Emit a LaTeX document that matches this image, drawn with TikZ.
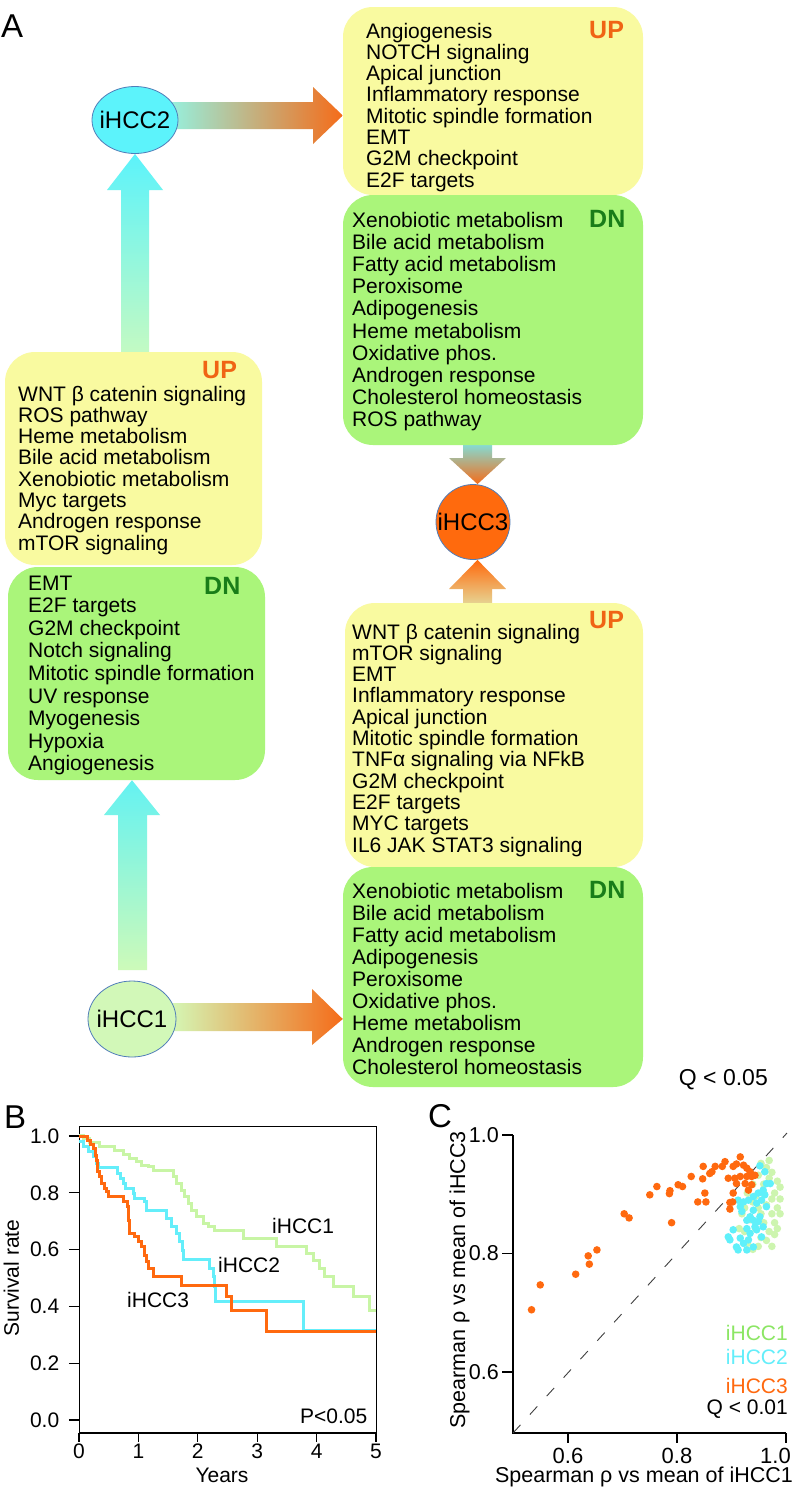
\documentclass[tikz,border=0pt]{standalone}
\usepackage{fontspec}
\setmainfont{Liberation Sans}
\usetikzlibrary{shapes.geometric,backgrounds,calc}

\definecolor{boxY}{RGB}{249,250,160}
\definecolor{boxG}{RGB}{170,245,122}
\definecolor{upO}{RGB}{240,100,20}
\definecolor{dnG}{RGB}{25,125,25}
\definecolor{ellC}{RGB}{92,243,251}
\definecolor{ellO}{RGB}{255,106,13}
\definecolor{ellG}{RGB}{210,248,184}
\definecolor{ellB}{RGB}{80,125,185}
\definecolor{arO}{RGB}{245,108,25}
\definecolor{arC}{RGB}{100,242,242}
\definecolor{arLG}{RGB}{205,250,185}
\definecolor{cvG}{RGB}{200,245,165}
\definecolor{cvC}{RGB}{100,238,250}
\definecolor{cvO}{RGB}{255,105,15}
\definecolor{legG}{RGB}{140,230,100}
\definecolor{dotG}{RGB}{205,245,175}
\definecolor{dotC}{RGB}{95,240,250}

\newcommand\myfs[1]{\fontsize{#1}{#1}\selectfont}
\newcommand\pathlist[5]{\foreach \t [count=\i] in {#5} {\node[btxt] (#1\i) at (#2,{#3+#4*(\i-1)}) {\t};}}

\tikzset{
  upbox/.style={rectangle, rounded corners=30pt, fill=boxY, inner sep=0pt},
  dnbox/.style={rectangle, rounded corners=30pt, fill=boxG, inner sep=0pt},
  btxt/.style={anchor=base west, inner sep=0pt, font=\myfs{21}},
  uplab/.style={anchor=base west, inner sep=0pt, font=\bfseries\myfs{25}, text=upO},
  dnlab/.style={anchor=base west, inner sep=0pt, font=\bfseries\myfs{25}, text=dnG},
  cls/.style={ellipse, draw=ellB, line width=0.8pt, inner sep=0pt},
  clstext/.style={inner sep=0pt, font=\myfs{24}},
  panel/.style={anchor=base west, inner sep=0pt, font=\myfs{33}},
  lbl/.style={inner sep=0pt, font=\myfs{21}},
  axis/.style={line width=1.1pt, black},
  curve/.style={line width=3pt},
}

\begin{document}
\begin{tikzpicture}[x=1pt,y=-1pt]
\useasboundingbox (0,0) rectangle (793,1489);

% ---------------- Panel A ----------------
\node[panel] (lA) at (1,37) {A};

\node[upbox, minimum width=300, minimum height=188] (up2) at (493,101) {};
\node[dnbox, minimum width=300, minimum height=250] (dn2) at (493,320) {};
\node[upbox, minimum width=298, minimum height=264] (up3) at (494,735) {};
\node[dnbox, minimum width=300, minimum height=220] (dn3) at (493,977) {};
\node[upbox, minimum width=257, minimum height=213] (up1) at (133.5,458.5) {};
\node[dnbox, minimum width=257, minimum height=213] (dn1) at (136.5,673.5) {};

\node[cls, fill=ellC, minimum width=86, minimum height=67] (h2) at (135,120) {};
\node[cls, fill=ellO, minimum width=74, minimum height=75] (h3) at (473,522) {};
\node[cls, fill=ellG, minimum width=88, minimum height=76] (h1) at (132,1019) {};
\node[clstext] (h2t) at (h2.center) {iHCC2};
\node[clstext] (h3t) at (h3.center) {iHCC3};
\node[clstext] (h1t) at (h1.center) {iHCC1};

\coordinate (y2) at (0,115.5);

\begin{pgfonlayer}{background}
\fill[white] (0,0) rectangle (793,1489);
% iHCC1 -> left DN box
\shade[top color=arC, bottom color=arLG]
  (118,970) -- (118,815) -- (104,815) -- (h1.north |- dn1.south) -- (160,815) -- (147,815) -- (147,970) -- cycle;
% left UP box -> iHCC2
\shade[top color=ellC, bottom color={rgb,255:red,195;green,250;blue,195}]
  (h2.south |- up1.north) -- (121,352) -- (121,190) -- (107,190) -- (h2.south) -- (163,190) -- (149,190) -- (149,352) -- cycle;
% iHCC2 -> top UP box
\shade[left color={rgb,255:red,150;green,240;blue,222}, right color=arO]
  (170,102) -- (313,102) -- (313,87) -- (up2.west |- y2) -- (313,144) -- (313,129) -- (170,129) -- cycle;
% iHCC1 -> right DN box
\shade[left color={rgb,255:red,212;green,248;blue,182}, right color=arO]
  (170,1003) -- (312,1003) -- (312,989) -- (dn3.west |- h1.east) -- (312,1045) -- (312,1031) -- (170,1031) -- cycle;
% top DN box -> iHCC3
\shade[top color={rgb,255:red,120;green,232;blue,232}, bottom color=arO]
  (463,440) -- (463,458) -- (449,458) -- (h3.north -| 477.5,0) -- (506,458) -- (492,458) -- (492,440) -- cycle;
% right UP box -> iHCC3
\shade[top color=ellO, bottom color={rgb,255:red,228;green,222;blue,160}]
  (463,608) -- (463,589) -- (449,589) -- (h3.south -| 477.5,0) -- (506,589) -- (492,589) -- (492,608) -- cycle;
\end{pgfonlayer}

% texts
\node[uplab] (u2l) at (589,38) {UP};
\pathlist{ta}{366}{38}{21.3}{Angiogenesis, NOTCH signaling, Apical junction, Inflammatory response, Mitotic spindle formation, EMT, G2M checkpoint, E2F targets}
\node[dnlab] (d2l) at (589,227) {DN};
\pathlist{tb}{352}{227}{22.2}{Xenobiotic metabolism, Bile acid metabolism, Fatty acid metabolism, Peroxisome, Adipogenesis, Heme metabolism, Oxidative phos., Androgen response, Cholesterol homeostasis, ROS pathway}
\node[uplab] (u1l) at (202,378) {UP};
\pathlist{tc}{18}{401}{21.3}{WNT β catenin signaling, ROS pathway, Heme metabolism, Bile acid metabolism, Xenobiotic metabolism, Myc targets, Androgen response, mTOR signaling}
\node[dnlab] (d1l) at (204,594) {DN};
\pathlist{td}{28}{590}{22.6}{EMT, E2F targets, G2M checkpoint, Notch signaling, Mitotic spindle formation, UV response, Myogenesis, Hypoxia, Angiogenesis}
\node[uplab] (u3l) at (589,628) {UP};
\pathlist{te}{352}{639}{21.3}{WNT β catenin signaling, mTOR signaling, EMT, Inflammatory response, Apical junction, Mitotic spindle formation, TNFα signaling via NFkB, G2M checkpoint, E2F targets, MYC targets, IL6 JAK STAT3 signaling}
\node[dnlab] (d3l) at (589,898) {DN};
\pathlist{tf}{352}{898}{22}{Xenobiotic metabolism, Bile acid metabolism, Fatty acid metabolism, Adipogenesis, Peroxisome, Oxidative phos., Heme metabolism, Androgen response, Cholesterol homeostasis}

\node[lbl, anchor=base east, font=\myfs{23}] (q05) at (768,1085) {Q < 0.05};

% ---------------- Panel B ----------------
\node[panel] (lB) at (4,1128) {B};
\begin{scope}[shift={(79,1420)}, x=59.4pt, y=284pt]
  \draw[line width=1pt] (0,-0.046) rectangle (5,1.032);
  \draw[line width=2.2pt] (0,-0.046) -- (5,-0.046);
  \foreach \s in {0.0,0.2,0.4,0.6,0.8,1.0} {
    \draw[axis] (-0.17,\s) -- (0,\s);
    \node[lbl, anchor=east] (yb\s) at (-0.33,\s) {\s};
  }
  \foreach \t in {0,...,5} {
    \draw[axis] (\t,-0.046) -- (\t,-0.078);
    \node[lbl, anchor=base] (xb\t) at (\t,-0.137) {\t};
  }
\end{scope}
\begin{scope}[shift={(0,1020)}, x=0.33333pt, y=-0.33333pt]
  \draw[curve, cvG] (238,347) -| (250,355) -| (268,368) -| (300,378) -| (345,392) -| (370,404) -| (390,415) -| (410,425) -| (425,435) -| (445,440) -| (460,450) -| (520,470) -| (530,490) -| (545,510) -| (555,530) -| (565,550) -| (575,570) -| (590,590) -| (610,610) -| (625,620) -| (645,630) -| (730,655) -| (830,680) -| (920,700) -| (940,720) -| (960,745) -| (975,770) -| (1000,800) -| (1060,830) -| (1110,870) -- (1128,870);
  \draw[curve, cvC] (238,365) -| (250,380) -| (265,395) -| (280,410) -| (290,430) -| (295,442) -| (352,460) -| (362,475) -| (370,490) -| (378,505) -| (400,520) -| (405,535) -| (435,545) -| (440,570) -| (500,595) -| (515,620) -| (530,640) -| (540,665) -| (548,690) -| (552,718) -| (630,745) -| (640,770) -| (645,800) -| (648,845) -| (910,930) -- (1128,930);
  \draw[curve, cvO] (238,350) -| (262,362) -| (272,372) -| (282,385) -| (288,405) -| (290,420) -| (292,455) -| (300,470) -| (305,490) -| (315,505) -| (320,515) -| (325,528) -| (372,545) -| (382,560) -| (385,600) -| (390,640) -| (405,650) -| (415,665) -| (425,680) -| (435,705) -| (440,725) -| (445,745) -| (460,770) -| (545,795) -| (680,830) -| (695,870) -| (800,935) -- (1128,935);
\end{scope}
\node[lbl, anchor=base west] (k1) at (272,1233) {iHCC1};
\node[lbl, anchor=base west] (k2) at (218,1272) {iHCC2};
\node[lbl, anchor=base west] (k3) at (127,1307) {iHCC3};
\node[lbl, anchor=base west] (pv) at (300,1423) {P<0.05};
\node[lbl, anchor=base] (yrs) at (222,1482) {Years};
\node[lbl, anchor=base, rotate=90] (srv) at (19,1278) {Survival rate};

% ---------------- Panel C ----------------
\node[panel] (lC) at (428,1127) {C};
\draw[axis] (513,1135) -- (513,1433) -- (786,1433);
\foreach \yy/\lab in {1135/1.0, 1253.5/0.8, 1372/0.6} {
  \draw[axis] (502,\yy) -- (513,\yy);
  \node[lbl, anchor=east, font=\myfs{21.5}] (yc\lab) at (499,\yy) {\lab};
}
\foreach \xx/\lab in {568/0.6, 677/0.8} {
  \draw[axis] (\xx,1433) -- (\xx,1443);
  \node[lbl, anchor=base, font=\myfs{22}] (xc\lab) at (\xx,1463) {\lab};
}
\draw[axis] (786,1433) -- (786,1443);
\node[lbl, anchor=base east, font=\myfs{22}] (xc10) at (791,1463) {1.0};
\draw[line width=0.9pt, black!75, dash pattern=on 11pt off 14pt] (513,1433) -- (787,1133);

\begin{scope}[shift={(240.5,1729.25)}, x=545pt, y=592.5pt]
  \foreach \u/\v in {0.955/0.955,0.965/0.948,0.975/0.94,0.985/0.925,0.99/0.915,0.98/0.905,0.97/0.93,0.96/0.92,0.975/0.895,0.985/0.88,0.99/0.87,0.975/0.87,0.965/0.885,0.98/0.855,0.985/0.845,0.97/0.84,0.96/0.855,0.955/0.87,0.945/0.9,0.94/0.89,0.93/0.905,0.925/0.88,0.92/0.87,0.935/0.86,0.945/0.845,0.955/0.83,0.965/0.825,0.95/0.815,0.94/0.81,0.93/0.82,0.915/0.845,0.925/0.84,0.95/0.935,0.94/0.92,0.97/0.96,0.96/0.905,0.95/0.88,0.975/0.815,0.99/0.895,0.98/0.835}
    \fill[dotG] (\u,\v) circle[radius=3.8pt];
  \foreach \u/\v in {0.953/0.951,0.962/0.941,0.965/0.921,0.972/0.921,0.959/0.910,0.950/0.905,0.941/0.899,0.932/0.893,0.923/0.890,0.917/0.882,0.920/0.874,0.947/0.888,0.956/0.893,0.962/0.902,0.941/0.876,0.935/0.865,0.929/0.859,0.941/0.859,0.944/0.848,0.947/0.843,0.929/0.845,0.935/0.837,0.932/0.826,0.923/0.820,0.917/0.829,0.910/0.814,0.913/0.809,0.898/0.826,0.895/0.831,0.904/0.843,0.956/0.831,0.941/0.814,0.929/0.809,0.913/0.893,0.953/0.865,0.965/0.882,0.950/0.857,0.959/0.848}
    \fill[dotC] (\u,\v) circle[radius=3.8pt];
  \foreach \u/\v in {0.534/0.708,0.550/0.750,0.615/0.768,0.638/0.799,0.640/0.785,0.654/0.809,0.704/0.870,0.713/0.863,0.751/0.902,0.764/0.916,0.787/0.904,0.788/0.909,0.791/0.855,0.803/0.919,0.811/0.916,0.827/0.933,0.839/0.890,0.848/0.929,0.849/0.950,0.852/0.905,0.854/0.890,0.861/0.938,0.865/0.941,0.871/0.950,0.884/0.950,0.889/0.958,0.898/0.889,0.903/0.890,0.898/0.878,0.904/0.950,0.910/0.954,0.917/0.966,0.907/0.930,0.923/0.952,0.929/0.947,0.935/0.941,0.938/0.933,0.944/0.935,0.926/0.921,0.932/0.910,0.938/0.919,0.917/0.933,0.910/0.921,0.895/0.930,0.904/0.905,0.929/0.933}
    \fill[cvO] (\u,\v) circle[radius=3.8pt];
\end{scope}

\node[lbl, anchor=base east, text=legG] (g1) at (788,1340) {iHCC1};
\node[lbl, anchor=base east, text=cvC] (g2) at (788,1364) {iHCC2};
\node[lbl, anchor=base east, text=cvO] (g3) at (788,1393) {iHCC3};
\node[lbl, anchor=base east] (q01) at (788,1414) {Q < 0.01};
\node[lbl, anchor=base, font=\myfs{21.5}] (xt) at (644,1482) {Spearman ρ vs mean of iHCC1};
\node[lbl, anchor=base, rotate=90, font=\myfs{21.5}] (yt) at (465,1280) {Spearman ρ vs mean of iHCC3};
\end{tikzpicture}
\end{document}
